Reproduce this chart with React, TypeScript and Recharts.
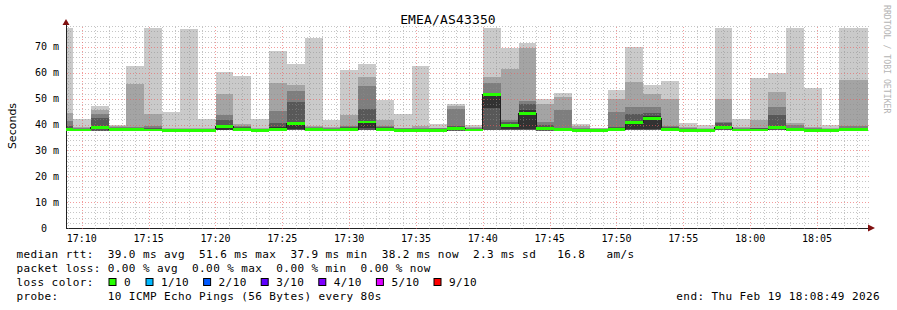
import { Area, ComposedChart, Line, ReferenceDot, ReferenceLine, XAxis, YAxis } from 'recharts';

// time is minutes of the day; one smokeping step is 80 s
const START = 1028 + 49 / 60; // 17:08:49
const END = START + 60;
const FIRST_STEP = 1029.34;
const STEP = 80 / 60;
const RTT_MAX = 78.5;

// 46 steps, sorted ping ranks (ms)
const median = [38.2, 37.9, 38.7, 38.0, 38.1, 37.9, 37.8, 37.8, 37.8, 39.3, 38.2, 37.8, 38.2, 40.3, 38.0, 37.9, 38.2, 41.0, 38.0, 37.8, 37.8, 37.8, 38.4, 37.9, 51.6, 39.8, 44.4, 38.5, 38.0, 37.8, 37.8, 38.2, 40.9, 42.4, 38.2, 37.7, 37.7, 38.9, 37.9, 37.9, 38.8, 38.0, 37.8, 37.8, 38.1, 38.2];
const ping1 = [37.6, 37.6, 37.4, 37.7, 37.7, 37.6, 37.6, 37.6, 37.6, 37.8, 37.7, 37.6, 37.7, 37.8, 37.7, 37.6, 37.7, 37.9, 37.7, 37.6, 37.6, 37.6, 37.7, 37.6, 38.0, 37.9, 37.8, 37.7, 37.7, 37.6, 37.6, 37.7, 37.9, 37.9, 37.7, 37.5, 37.5, 37.8, 37.6, 37.6, 37.8, 37.7, 37.6, 37.6, 37.7, 37.7];
const ping5 = [38.0, 37.8, 38.2, 37.9, 38.0, 37.8, 37.7, 37.7, 37.7, 38.0, 38.0, 37.7, 38.0, 38.2, 37.9, 37.8, 38.0, 38.7, 37.9, 37.7, 37.7, 37.7, 38.1, 37.8, 46.4, 38.3, 38.1, 38.0, 37.9, 37.7, 37.7, 38.0, 38.3, 38.3, 38.0, 37.6, 37.6, 38.2, 37.8, 37.8, 38.1, 37.9, 37.7, 37.7, 37.9, 37.9];
const ping6 = [38.8, 38.1, 39.5, 38.3, 38.4, 38.2, 38.0, 38.0, 38.0, 40.0, 38.6, 38.0, 39.0, 41.0, 38.3, 38.1, 38.6, 41.5, 38.5, 38.0, 38.0, 38.0, 38.9, 38.1, 52.0, 40.2, 45.5, 39.2, 38.4, 38.0, 38.0, 38.6, 41.5, 43.2, 38.6, 37.9, 37.9, 39.4, 38.1, 38.2, 39.5, 38.3, 38.0, 38.0, 38.3, 38.3];
const ping7 = [39.6, 38.3, 42.7, 38.7, 38.6, 38.5, 38.2, 38.2, 38.2, 41.9, 39.0, 38.2, 40.6, 48.7, 38.6, 38.3, 39.0, 46.0, 38.9, 38.2, 38.3, 38.2, 39.5, 38.3, 52.3, 40.8, 47.8, 39.8, 38.8, 38.3, 38.1, 39.0, 44.0, 44.5, 39.0, 38.2, 38.1, 40.5, 38.3, 38.5, 43.6, 38.8, 38.2, 38.1, 38.6, 38.6];
const ping8 = [41.4, 38.6, 44.1, 38.9, 38.9, 39.3, 38.4, 38.4, 38.4, 43.7, 39.4, 38.4, 45.2, 53.0, 39.0, 38.6, 39.4, 54.9, 39.3, 38.5, 38.7, 38.5, 45.9, 38.6, 56.1, 41.6, 49.1, 41.0, 45.6, 38.7, 38.3, 44.9, 46.8, 46.8, 39.3, 38.5, 38.4, 41.0, 38.6, 38.8, 46.8, 39.8, 38.5, 38.4, 39.3, 39.3];
const ping9 = [44.6, 39.0, 45.6, 39.3, 55.8, 44.1, 38.6, 38.7, 38.7, 51.9, 40.3, 38.7, 56.1, 55.3, 39.5, 38.9, 43.8, 58.4, 41.9, 38.8, 39.3, 38.8, 47.0, 38.9, 58.4, 61.6, 69.6, 47.8, 50.5, 39.3, 38.5, 49.9, 56.5, 51.8, 49.9, 39.0, 38.8, 49.9, 38.9, 41.9, 52.6, 40.6, 39.0, 38.8, 57.2, 57.2];
const ping10 = [77.3, 42.1, 47.2, 39.8, 62.8, 77.3, 44.9, 76.8, 42.1, 60.3, 58.8, 42.1, 68.3, 63.5, 73.6, 41.9, 61.2, 63.5, 49.6, 44.1, 62.6, 40.3, 47.9, 39.7, 77.3, 69.6, 71.7, 49.9, 52.2, 40.1, 38.8, 53.4, 70.0, 55.2, 56.8, 40.6, 39.7, 77.3, 42.1, 58.0, 59.9, 77.3, 54.3, 39.8, 77.3, 77.3];

const timeTicks = [1030, 1035, 1040, 1045, 1050, 1055, 1060, 1065, 1070, 1075, 1080, 1085];
const rttTicks = [0, 10, 20, 30, 40, 50, 60, 70];
const minuteGrid = Array.from({ length: 60 }, (_, i) => 1029 + i).filter((m) => m % 5 !== 0);
const rttGrid = Array.from({ length: 39 }, (_, i) => (i + 1) * 2).filter((v) => v % 10 !== 0);

const lossColors = [
  { label: '0', color: '#26ff00' },
  { label: '1/10', color: '#00b8ff' },
  { label: '2/10', color: '#0059ff' },
  { label: '3/10', color: '#5e00ff' },
  { label: '4/10', color: '#7e00ff' },
  { label: '5/10', color: '#dd00ff' },
  { label: '9/10', color: '#ff0000' },
];

const smoke = ['#cacaca', '#a4a4a4', '#7e7e7e', '#585858', '#323232'];
const HALF = 0.56; // half height of the median bar, ms
const MONO = '"DejaVu Sans Mono", monospace';

const rows: any[] = median.map((m, i) => ({
  t: i === 0 ? START : FIRST_STEP + (i - 1) * STEP,
  b1: [ping1[i], ping10[i]],
  b2: [ping1[i], ping9[i]],
  b3: [ping1[i], ping8[i]],
  b4: [ping1[i], ping7[i]],
  b5: [ping5[i], ping6[i]],
  med: m,
  loss0: [m - HALF, m + HALF],
}));
rows.push({ ...rows[rows.length - 1], t: END });

const fmtTime = (v: number) => {
  const h = Math.floor(v / 60);
  const m = Math.round(v - h * 60);
  return `${h}:${String(m).padStart(2, '0')}`;
};

function TimeTick({ x, y, payload }: any) {
  return (
    <text x={x} y={y} dy={14} textAnchor="middle" fontFamily={MONO} fontSize={10} fill="#000">
      {fmtTime(payload.value)}
    </text>
  );
}

function RttTick({ x, y, payload }: any) {
  const v = payload.value;
  return (
    <text x={v === 0 ? x - 12 : x} y={y} dy={3.5} textAnchor="end" fontFamily={MONO} fontSize={10} fill="#000">
      {v === 0 ? '0' : `${v} m`}
    </text>
  );
}

const snap = (v: number) => Math.round(v) + 0.5;
const gridShape = (color: string) => (p: any) => (
  <line
    x1={snap(p.x1)}
    y1={snap(p.y1)}
    x2={snap(p.x2)}
    y2={snap(p.y2)}
    stroke={color}
    strokeWidth={1}
    strokeDasharray="1 2"
  />
);
const minorShape = gridShape('rgba(140,140,140,0.5)');
const majorShape = gridShape('rgba(235,90,90,0.6)');

const arrowRight = (p: any) => (
  <polygon points={`${p.cx},${p.cy - 3.5} ${p.cx + 7},${p.cy} ${p.cx},${p.cy + 3.5}`} fill="#801010" />
);
const arrowUp = (p: any) => (
  <polygon points={`${p.cx - 3.5},${p.cy} ${p.cx},${p.cy - 6} ${p.cx + 3.5},${p.cy}`} fill="#801010" />
);

const legendText = { fontFamily: MONO, fontSize: 11, letterSpacing: 0.4, fill: '#000', whiteSpace: 'pre' } as const;

const layer = { position: 'absolute', left: 0, top: 0 } as const;
const overlayMargin = { top: 25, right: 29, bottom: 82, left: 66 };

export default function App() {
  return (
    <div style={{ position: 'relative', width: 897, height: 310, background: '#fff' }}>
      <style>{'body{margin:0} .smoke path, .smoke line { shape-rendering: crispEdges; }'}</style>

      {/* smoke + axes */}
      <div className="smoke" style={layer}>
        <ComposedChart width={897} height={310} data={rows} margin={{ top: 25, right: 29, bottom: 62, left: 6 }}>
          <XAxis
            dataKey="t"
            type="number"
            domain={[START, END]}
            ticks={timeTicks}
            allowDataOverflow
            tick={<TimeTick />}
            tickLine={false}
            tickSize={0}
            tickMargin={0}
            height={20}
            axisLine={{ stroke: '#222' }}
          />
          <YAxis
            type="number"
            domain={[0, RTT_MAX]}
            ticks={rttTicks}
            allowDataOverflow
            tick={<RttTick />}
            tickLine={false}
            tickSize={0}
            tickMargin={7}
            width={60}
            axisLine={{ stroke: '#222' }}
          />
          {smoke.map((c, i) => (
            <Area
              key={c}
              type="stepAfter"
              dataKey={`b${i + 1}`}
              stroke="none"
              fill={c}
              fillOpacity={1}
              dot={false}
              activeDot={false}
              isAnimationActive={false}
              zIndex={100 + i}
            />
          ))}
        </ComposedChart>
      </div>

      {/* grid drawn over the smoke, as rrdtool does */}
      <div className="smoke" style={layer}>
        <ComposedChart width={897} height={310} data={rows} margin={overlayMargin}>
          <XAxis dataKey="t" type="number" domain={[START, END]} allowDataOverflow hide />
          <YAxis type="number" domain={[0, RTT_MAX]} allowDataOverflow hide />
          {rttGrid.map((v) => (
            <ReferenceLine key={`h${v}`} y={v} shape={minorShape} />
          ))}
          {minuteGrid.map((m) => (
            <ReferenceLine key={`v${m}`} x={m} shape={minorShape} />
          ))}
          {rttTicks.slice(1).map((v) => (
            <ReferenceLine key={`H${v}`} y={v} shape={majorShape} />
          ))}
          {timeTicks.map((m) => (
            <ReferenceLine key={`V${m}`} x={m} shape={majorShape} />
          ))}
        </ComposedChart>
      </div>

      {/* median: dark step line, then the loss coloured bar over it */}
      <div className="smoke" style={layer}>
        <ComposedChart width={897} height={310} data={rows} margin={overlayMargin}>
          <XAxis dataKey="t" type="number" domain={[START, END]} allowDataOverflow hide />
          <YAxis type="number" domain={[0, RTT_MAX]} allowDataOverflow hide />
          <Line
            type="stepAfter"
            dataKey="med"
            stroke="#202020"
            strokeWidth={1}
            dot={false}
            activeDot={false}
            isAnimationActive={false}
            zIndex={100}
          />
          <Area
            type="stepAfter"
            dataKey="loss0"
            stroke="none"
            fill="#26ff00"
            fillOpacity={1}
            dot={false}
            activeDot={false}
            isAnimationActive={false}
            zIndex={900}
          />
          <ReferenceDot x={END} y={0} r={0} shape={arrowRight} ifOverflow="visible" zIndex={1000} />
          <ReferenceDot x={START} y={RTT_MAX} r={0} shape={arrowUp} ifOverflow="visible" zIndex={1000} />
        </ComposedChart>
      </div>

      <svg width={897} height={310} style={{ ...layer, pointerEvents: 'none' }}>
        <text x={448} y={24} textAnchor="middle" fontFamily={MONO} fontSize={13} letterSpacing={0.15} fill="#000">
          EMEA/AS43350
        </text>
        <text
          transform="translate(15.5,126) rotate(-90)"
          textAnchor="middle"
          fontFamily='"DejaVu Sans", sans-serif'
          fontSize={11}
          fill="#000"
        >
          Seconds
        </text>
        <text transform="translate(883.5,5) rotate(90)" fontFamily={MONO} fontSize={8.2} fill="#b4b4b4">
          RRDTOOL / TOBI OETIKER
        </text>
        <text x={16.5} y={258} xmlSpace="preserve" style={legendText}>
          {'median rtt:  39.0 ms avg  51.6 ms max  37.9 ms min  38.2 ms now  2.3 ms sd   16.8   am/s'}
        </text>
        <text x={16.5} y={272} xmlSpace="preserve" style={legendText}>
          {'packet loss: 0.00 % avg  0.00 % max  0.00 % min  0.00 % now'}
        </text>
        <text x={16.5} y={286} xmlSpace="preserve" style={legendText}>
          {'loss color:'}
        </text>
        {lossColors.map((l, i) => {
          const bx = 108.5 + (i === 0 ? 0 : 37 + (i - 1) * 57.6);
          return (
            <g key={l.label}>
              <rect x={bx + 0.5} y={278.5} width={7} height={7} fill={l.color} stroke="#000" strokeWidth={1} />
              <text x={bx + 15.5} y={286} style={legendText}>
                {l.label}
              </text>
            </g>
          );
        })}
        <text x={16.5} y={300} xmlSpace="preserve" style={legendText}>
          {'probe:       10 ICMP Echo Pings (56 Bytes) every 80s'}
        </text>
        <text x={880} y={300} textAnchor="end" xmlSpace="preserve" style={legendText}>
          {'end: Thu Feb 19 18:08:49 2026'}
        </text>
      </svg>
    </div>
  );
}
